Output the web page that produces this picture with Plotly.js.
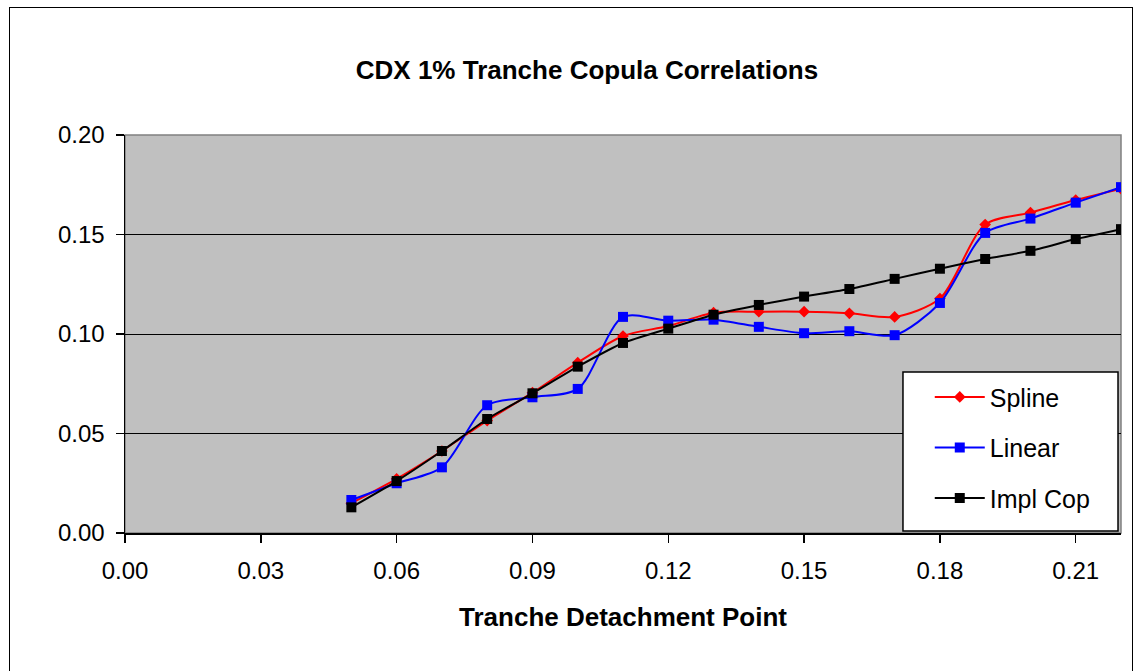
<!DOCTYPE html>
<html>
<head>
<meta charset="utf-8">
<script src="https://cdn.plot.ly/plotly-3.0.1.min.js"></script>
<style>
  html, body { margin: 0; padding: 0; background: #ffffff; overflow: hidden; }
  #wrap { position: relative; width: 1134px; height: 671px; }
  #chart { position: absolute; left: 0; top: 0; width: 1134px; height: 671px; }
  #frame { position: absolute; left: 9px; top: 7px; width: 1124px; height: 720px;
           border: 1.5px solid #000; box-sizing: border-box; pointer-events: none; }
</style>
</head>
<body>
<div id="wrap">
  <div id="chart"></div>
  <div id="frame"></div>
</div>
<script>
// Tranche detachment points
const detachment = [0.05, 0.06, 0.07, 0.08, 0.09, 0.10, 0.11, 0.12, 0.13, 0.14, 0.15, 0.16, 0.17, 0.18, 0.19, 0.20, 0.21, 0.22];
// Series values
const splineCorr = [0.015, 0.0272, 0.0412, 0.0565, 0.0705, 0.0856, 0.0990, 0.1040, 0.1107, 0.1112, 0.1112, 0.1104, 0.1086, 0.1178, 0.1550, 0.1610, 0.1673, 0.1730];
const linearCorr = [0.0166, 0.0250, 0.0330, 0.0642, 0.0682, 0.0724, 0.1086, 0.1067, 0.1072, 0.1036, 0.1004, 0.1014, 0.0994, 0.1156, 0.1508, 0.1580, 0.1660, 0.1738];
const implCopCorr = [0.0129, 0.0261, 0.0412, 0.0573, 0.0702, 0.0836, 0.0955, 0.1027, 0.1097, 0.1146, 0.1188, 0.1226, 0.1277, 0.1328, 0.1377, 0.1418, 0.1477, 0.1527];
const seriesNames = ["Spline", "Linear", "Impl Cop"];
const xTickVals = [0.00, 0.03, 0.06, 0.09, 0.12, 0.15, 0.18, 0.21];
const xTickText = ["0.00", "0.03", "0.06", "0.09", "0.12", "0.15", "0.18", "0.21"];
const yTickVals = [0.00, 0.05, 0.10, 0.15, 0.20];
const yTickText = ["0.00", "0.05", "0.10", "0.15", "0.20"];

const FONT = '"Liberation Sans", Arial, Helvetica, sans-serif';

const traces = [
  {
    x: detachment, y: splineCorr, name: seriesNames[0], type: 'scatter', mode: 'lines+markers',
    line: { color: '#ff0000', width: 2, shape: 'spline', smoothing: 0.8 },
    marker: { symbol: 'diamond', size: 9, color: '#ff0000' },
    legendgroup: 'g1'
  },
  {
    x: detachment, y: linearCorr, name: seriesNames[1], type: 'scatter', mode: 'lines+markers',
    line: { color: '#0000ff', width: 2, shape: 'spline', smoothing: 0.8 },
    marker: { symbol: 'square', size: 10, color: '#0000ff' },
    legendgroup: 'g2'
  },
  {
    x: detachment, y: implCopCorr, name: seriesNames[2], type: 'scatter', mode: 'lines+markers',
    line: { color: '#000000', width: 2, shape: 'spline', smoothing: 0.5 },
    marker: { symbol: 'square', size: 10, color: '#000000' },
    legendgroup: 'g3'
  }
];

const layout = {
  width: 1134, height: 671,
  margin: { l: 125, r: 13, t: 135, b: 138, pad: 0 },
  paper_bgcolor: 'rgba(0,0,0,0)',
  plot_bgcolor: '#c0c0c0',
  font: { family: FONT, color: '#000000', size: 24 },
  title: {
    text: '<b>CDX 1% Tranche Copula Correlations</b>',
    font: { family: FONT, size: 26, color: '#000000' },
    x: 0.5176, xanchor: 'center', xref: 'container',
    y: 0.896, yanchor: 'middle', yref: 'container'
  },
  xaxis: {
    range: [0, 0.22],
    tickmode: 'array', tickvals: xTickVals, ticktext: xTickText,
    ticks: 'outside', ticklen: 8, tickwidth: 1.5, tickcolor: '#000000',
    showline: true, linecolor: '#000000', linewidth: 1.5,
    showgrid: false, zeroline: false,
    tickfont: { family: FONT, size: 24, color: '#000000' },
    ticklabelstandoff: 8,
    title: { text: '<b>Tranche Detachment Point</b>', font: { family: FONT, size: 26, color: '#000000' }, standoff: 24 },
    fixedrange: true
  },
  yaxis: {
    range: [0, 0.2],
    tickmode: 'array', tickvals: yTickVals, ticktext: yTickText,
    ticks: 'outside', ticklen: 8, tickwidth: 1.5, tickcolor: '#000000',
    showline: true, linecolor: '#000000', linewidth: 1.5,
    showgrid: true, gridcolor: '#000000', gridwidth: 1,
    zeroline: false,
    tickfont: { family: FONT, size: 24, color: '#000000' },
    ticklabelstandoff: 6,
    fixedrange: true
  },
  showlegend: true,
  legend: {
    x: 0.808, xanchor: 'left', xref: 'paper',
    y: 0.399, yanchor: 'top', yref: 'paper',
    bgcolor: 'rgba(0,0,0,0)', borderwidth: 0,
    font: { family: FONT, size: 25, color: '#000000' },
    tracegroupgap: 15,
    itemwidth: 50
  },
  shapes: [
    { type: 'rect', xref: 'paper', yref: 'paper', x0: 0, x1: 1, y0: 0, y1: 1,
      line: { color: '#808080', width: 1.5 }, fillcolor: 'rgba(0,0,0,0)', layer: 'below' },
    { type: 'rect', xref: 'paper', yref: 'paper', x0: 0.7811, x1: 0.997, y0: 0.005, y1: 0.4045,
      line: { color: '#000000', width: 1.5 }, fillcolor: '#ffffff', layer: 'above' }
  ]
};

Plotly.newPlot('chart', traces, layout, { displayModeBar: false, staticPlot: true });
</script>
</body>
</html>
